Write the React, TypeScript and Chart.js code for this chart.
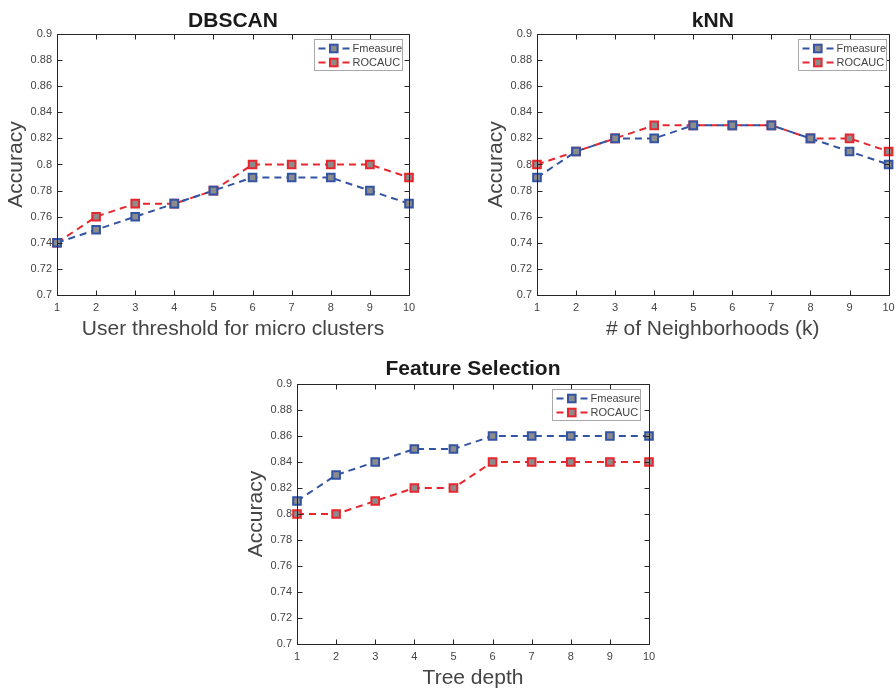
import React, { useEffect, useRef } from 'react';
import { Chart, registerables } from 'chart.js';

Chart.register(...registerables);

const xValues = [1, 2, 3, 4, 5, 6, 7, 8, 9, 10];
const yTicks = [0.7, 0.72, 0.74, 0.76, 0.78, 0.8, 0.82, 0.84, 0.86, 0.88, 0.9];
const yTickLabels = ['0.7', '0.72', '0.74', '0.76', '0.78', '0.8', '0.82', '0.84', '0.86', '0.88', '0.9'];
const seriesNames = ['Fmeasure', 'ROCAUC'];

const dbscanFmeasure = [0.74, 0.75, 0.76, 0.77, 0.78, 0.79, 0.79, 0.79, 0.78, 0.77];
const dbscanRocauc = [0.74, 0.76, 0.77, 0.77, 0.78, 0.8, 0.8, 0.8, 0.8, 0.79];
const knnFmeasure = [0.79, 0.81, 0.82, 0.82, 0.83, 0.83, 0.83, 0.82, 0.81, 0.8];
const knnRocauc = [0.8, 0.81, 0.82, 0.83, 0.83, 0.83, 0.83, 0.82, 0.82, 0.81];
const fsFmeasure = [0.81, 0.83, 0.84, 0.85, 0.85, 0.86, 0.86, 0.86, 0.86, 0.86];
const fsRocauc = [0.8, 0.8, 0.81, 0.82, 0.82, 0.84, 0.84, 0.84, 0.84, 0.84];

const BLUE = '#3353a3';
const RED = '#e8262e';
const FILL = '#8c8c8c';
const AXIS = '#262626';
const TEXT = '#444444';
const FONT = "'Liberation Sans', Arial, Helvetica, sans-serif";
const DASH = [7, 5];

type PlotProps = {
  title: string;
  xlabel: string;
  f: number[];
  r: number[];
  left: number;
  top: number;
  width: number;
  height: number;
  padding: { left: number; right: number; top: number; bottom: number };
  titleGap: number;
  legendInset: number;
};

function makeDataset(label: string, values: number[], color: string) {
  return {
    label,
    data: xValues.map((x, i) => ({ x, y: values[i] })),
    borderColor: color,
    backgroundColor: color,
    borderWidth: 2,
    borderDash: DASH,
    pointStyle: 'rect',
    pointRadius: 5.4,
    pointBackgroundColor: FILL,
    pointBorderColor: color,
    pointBorderWidth: 2,
    tension: 0,
    clip: false,
  };
}

function Plot(props: PlotProps) {
  const ref = useRef<HTMLCanvasElement | null>(null);
  useEffect(() => {
    if (!ref.current) return;
    const decor = {
      id: 'decor',
      afterDraw(chart: any) {
        const ctx = chart.ctx as CanvasRenderingContext2D;
        const { left, right, top, bottom } = chart.chartArea;
        const xs = chart.scales.x;
        const ys = chart.scales.y;
        const L = Math.round(left) + 0.5;
        const R = Math.round(right) + 0.5;
        const T = Math.round(top) + 0.5;
        const B = Math.round(bottom) + 0.5;
        ctx.save();
        // frame
        ctx.strokeStyle = AXIS;
        ctx.lineWidth = 1;
        ctx.setLineDash([]);
        ctx.strokeRect(L, T, R - L, B - T);
        ctx.beginPath();
        xValues.forEach((v) => {
          const px = Math.round(xs.getPixelForValue(v)) + 0.5;
          ctx.moveTo(px, B);
          ctx.lineTo(px, B - 5);
          ctx.moveTo(px, T);
          ctx.lineTo(px, T + 5);
        });
        yTicks.forEach((v) => {
          const py = Math.round(ys.getPixelForValue(v)) + 0.5;
          ctx.moveTo(L, py);
          ctx.lineTo(L + 5, py);
          ctx.moveTo(R, py);
          ctx.lineTo(R - 5, py);
        });
        ctx.stroke();
        // title
        const cx = (left + right) / 2;
        ctx.fillStyle = '#1a1a1a';
        ctx.font = `bold 21px ${FONT}`;
        ctx.textAlign = 'center';
        ctx.textBaseline = 'alphabetic';
        ctx.fillText(props.title, cx, top - props.titleGap);
        // x label
        ctx.fillStyle = TEXT;
        ctx.font = `21px ${FONT}`;
        ctx.fillText(props.xlabel, cx, bottom + 40);
        // y label
        ctx.save();
        ctx.translate(left - 41, (top + bottom) / 2);
        ctx.rotate(-Math.PI / 2);
        ctx.textBaseline = 'middle';
        ctx.fillText('Accuracy', 0, 0);
        ctx.restore();
        // legend
        const lw = 88;
        const lh = 31;
        const lx = Math.round(right - props.legendInset - lw) + 0.5;
        const ly = Math.round(top + 5) + 0.5;
        ctx.fillStyle = '#ffffff';
        ctx.fillRect(lx, ly, lw, lh);
        ctx.strokeStyle = '#a8a8a8';
        ctx.lineWidth = 1;
        ctx.strokeRect(lx, ly, lw, lh);
        const colors = [BLUE, RED];
        seriesNames.forEach((name, i) => {
          const yy = ly + 9 + i * 14;
          ctx.strokeStyle = colors[i];
          ctx.lineWidth = 2;
          ctx.setLineDash(DASH);
          ctx.beginPath();
          ctx.moveTo(lx + 4, yy);
          ctx.lineTo(lx + 36, yy);
          ctx.stroke();
          ctx.setLineDash([]);
          ctx.fillStyle = FILL;
          ctx.fillRect(lx + 15.5, yy - 3.8, 7.6, 7.6);
          ctx.strokeRect(lx + 15.5, yy - 3.8, 7.6, 7.6);
          ctx.fillStyle = TEXT;
          ctx.font = `11px ${FONT}`;
          ctx.textAlign = 'left';
          ctx.textBaseline = 'middle';
          ctx.fillText(name, lx + 38, yy + 0.5);
        });
        ctx.restore();
      },
    };
    const chart = new Chart(ref.current, {
      type: 'line',
      data: {
        datasets: [makeDataset(seriesNames[0], props.f, BLUE), makeDataset(seriesNames[1], props.r, RED)] as any,
      },
      options: {
        animation: false,
        responsive: false,
        maintainAspectRatio: false,
        layout: { padding: props.padding },
        plugins: {
          legend: { display: false },
          title: { display: false },
          tooltip: { enabled: false },
        },
        scales: {
          x: {
            type: 'linear',
            min: 1,
            max: 10,
            grid: { display: false, drawTicks: false },
            border: { display: false },
            ticks: {
              padding: 6,
              color: TEXT,
              font: { family: FONT, size: 11 },
              maxRotation: 0,
              autoSkip: false,
              callback: (v: any) => String(v),
            },
            afterBuildTicks: (s: any) => {
              s.ticks = xValues.map((v) => ({ value: v }));
            },
            afterFit: (s: any) => {
              s.height = 40;
              s.paddingLeft = 0;
              s.paddingRight = 0;
            },
          },
          y: {
            type: 'linear',
            min: 0.7,
            max: 0.9,
            grid: { display: false, drawTicks: false },
            border: { display: false },
            ticks: {
              padding: 5,
              color: TEXT,
              font: { family: FONT, size: 11 },
              autoSkip: false,
              callback: (v: any) => {
                const idx = yTicks.findIndex((t) => Math.abs(t - v) < 1e-6);
                return idx >= 0 ? yTickLabels[idx] : '';
              },
            },
            afterBuildTicks: (s: any) => {
              s.ticks = yTicks.map((v) => ({ value: v }));
            },
            afterFit: (s: any) => {
              s.width = 50;
              s.paddingTop = 0;
              s.paddingBottom = 0;
            },
          },
        },
      } as any,
      plugins: [decor],
    });
    return () => chart.destroy();
  }, []);
  return (
    <canvas
      ref={ref}
      width={props.width}
      height={props.height}
      style={{ position: 'absolute', left: props.left, top: props.top, width: props.width, height: props.height }}
    />
  );
}

export default function App() {
  return (
    <div style={{ position: 'absolute', left: 0, top: 0, width: 896, height: 693, background: '#ffffff' }}>
      <Plot
        title="DBSCAN"
        xlabel="User threshold for micro clusters"
        f={dbscanFmeasure}
        r={dbscanRocauc}
        left={0}
        top={0}
        width={448}
        height={346}
        padding={{ left: 7, right: 39, top: 34, bottom: 11 }}
        titleGap={7}
        legendInset={7}
      />
      <Plot
        title="kNN"
        xlabel="# of Neighborhoods (k)"
        f={knnFmeasure}
        r={knnRocauc}
        left={448}
        top={0}
        width={448}
        height={346}
        padding={{ left: 39, right: 7, top: 34, bottom: 11 }}
        titleGap={7}
        legendInset={3}
      />
      <Plot
        title="Feature Selection"
        xlabel="Tree depth"
        f={fsFmeasure}
        r={fsRocauc}
        left={200}
        top={346}
        width={496}
        height={347}
        padding={{ left: 47, right: 47, top: 38, bottom: 9 }}
        titleGap={9}
        legendInset={9}
      />
    </div>
  );
}
